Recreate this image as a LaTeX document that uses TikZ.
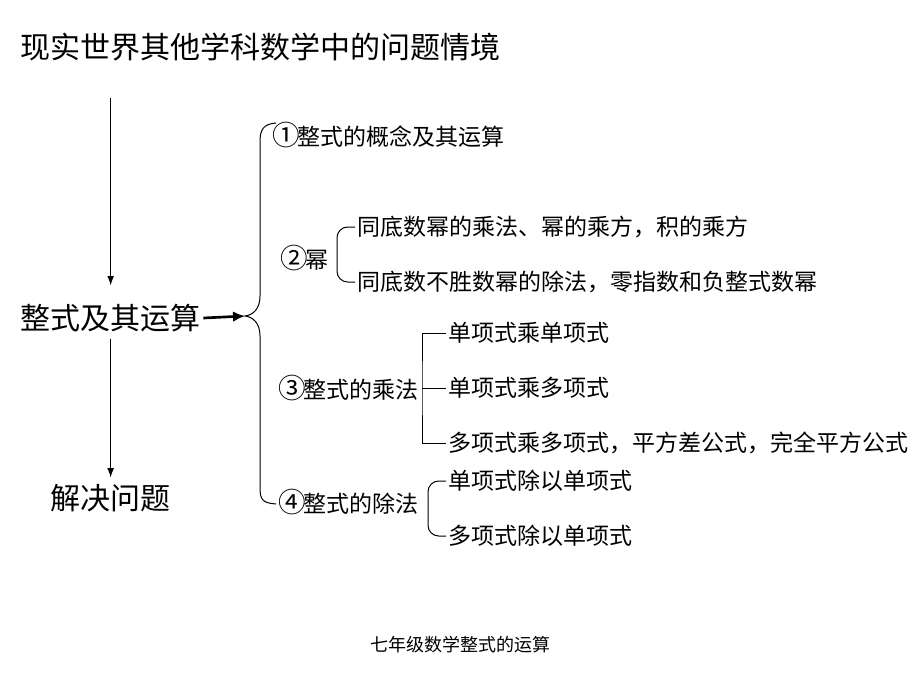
\documentclass[tikz,border=0pt]{standalone}
\usepackage{fontspec}
\usepackage{tikz}
\usetikzlibrary{arrows.meta}
\newfontfamily\cjk{Noto Sans CJK SC}
\newcommand{\bigtxt}{\fontsize{22.5pt}{26pt}\cjk}
\newcommand{\midtxt}{\fontsize{17.25pt}{20pt}\cjk}
\newcommand{\smalltxt}{\fontsize{13.5pt}{16pt}\cjk}
\newcommand{\circnum}[1]{\makebox[1em]{\scalebox{1.2}{#1}}}

\begin{document}
\begin{tikzpicture}[x=0.75pt, y=-0.75pt, line width=0.75pt, >={Latex[length=7pt,width=5pt]}]
	\tikzstyle{every node} = [inner sep=0pt, outer sep=2pt, anchor=west]
	\useasboundingbox (0,0) rectangle (920,690);
	\node[font=\bigtxt] (world) at (18,47)  {现实世界其他学科数学中的问题情境};
	\node[font=\bigtxt] (main)  at (18,318) {整式及其运算};
	\node[font=\bigtxt] (solve) at (48,498) {解决问题};
	\draw [->, shorten <=26pt, shorten >=12pt] (world.south -| main.north) -- (main.north);
	\draw [->, shorten <=3pt, shorten >=3pt]   (main.south) -- (solve.north);
	% big brace
	\coordinate (tip) at (245,316);
	\draw [-{Latex[length=9pt,width=8pt]}, line width=2pt] (main.east) -- (tip);
	\draw (276,123) .. controls (263,124) and (260,130) .. (260,142) -- (260,296)
	      .. controls (260,309) and (253,315) .. (tip)
	      .. controls (253,317) and (260,323) .. (260,336) -- (260,488)
	      .. controls (260,500) and (263,503) .. (276,504);
	\node[font=\midtxt] (mono)  at (272,135) {\circnum{①}整式的概念及其运算};
	\node[font=\midtxt] (power) at (280,258) {\circnum{②}幂};
	\node[font=\midtxt] (mult)  at (278,388) {\circnum{③}整式的乘法};
	\node[font=\midtxt] (divi)  at (278,502) {\circnum{④}整式的除法};
	% power
	\node[font=\midtxt] (p1) at (355,227) {同底数幂的乘法、幂的乘方，积的乘方};
	\node[font=\midtxt] (p2) at (355,282) {同底数不胜数幂的除法，零指数和负整式数幂};
	\coordinate (v2) at (337,258);
	\draw [rounded corners=8pt] (p1.west) -| (v2) |- (p2.west);
	% multiplication
	\node[font=\midtxt] (m1) at (446,333) {单项式乘单项式};
	\node[font=\midtxt] (m2) at (446,388) {单项式乘多项式};
	\node[font=\midtxt] (m3) at (446,443) {多项式乘多项式，平方差公式，完全平方公式};
	\coordinate (v3) at (422,388);
	\draw (m1.west) -| (v3) |- (m3.west);
	\draw (v3) -- (m2.west);
	% division
	\node[font=\midtxt] (d1) at (446,481) {单项式除以单项式};
	\node[font=\midtxt] (d2) at (446,536) {多项式除以单项式};
	\coordinate (v4) at (428,508);
	\draw [rounded corners=8pt] (d1.west) -| (v4) |- (d2.west);
	\node[font=\smalltxt, anchor=center] (foot) at (460,645) {七年级数学整式的运算};
\end{tikzpicture}
\end{document}
